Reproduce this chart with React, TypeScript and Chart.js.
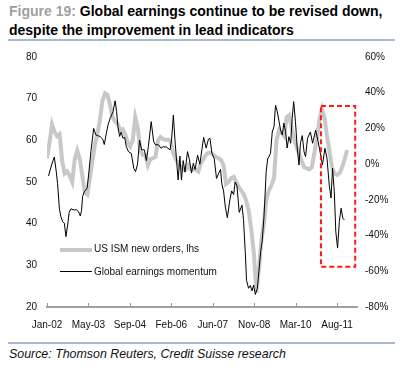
import React, { useEffect, useRef } from "react";
import { Chart, registerables } from "chart.js";

Chart.register(...registerables);

const titlePrefix = "Figure 19:";
const titleLine1 = " Global earnings continue to be revised down,";
const titleLine2 = "despite the improvement in lead indicators";
const sourceText = "Source: Thomson Reuters, Credit Suisse research";
const legendLabels = ["US ISM new orders, lhs", "Global earnings momentum"];

// x axis: months since Jan-02
const xTickLabels = ["Jan-02", "May-03", "Sep-04", "Feb-06", "Jun-07", "Nov-08", "Mar-10", "Aug-11"];
const xTickMonths = [0, 16.43, 32.86, 49.29, 65.71, 82.14, 98.57, 115];
const xRange = [0, 122.9];
const leftRange = [20, 80];
const rightRange = [-80, 60];

// US ISM new orders (lhs), monthly from Jan-02
const ismValues = [
  55.7, 59.5, 63.8, 62, 61, 61.5, 55, 52, 52.5, 51.5, 50, 55.5,
  57.5, 55.5, 51.5, 47.5, 47, 51, 55, 59, 61.5, 65, 69.5, 71.3,
  70.9, 68.5, 65.5, 64.5, 64, 62.5, 62.7, 61.5, 59.5, 58.5, 60, 65.5,
  63, 57.5, 56.5, 56.5, 54, 55.5, 55.7, 56, 60, 60.8, 60.3, 60.1,
  60.2, 59.8, 57, 55.5, 54.5, 53.5, 53, 53, 54, 53, 53, 53,
  52.5, 54.5, 55.5, 56.5, 57, 57, 56.5, 56, 55.7, 55.3, 54, 49.5,
  50, 50.9, 51.2, 50, 48.8, 48, 47, 45.5, 43, 38.5, 33, 23.5,
  29, 36, 40, 46, 48, 49.2, 51, 60, 62.5, 61.8, 61, 65.5,
  66, 63, 60.3, 58.3, 56.8, 55, 53.5, 53.3, 53, 53.5, 57, 60.5,
  65, 67.5, 65.5, 61, 57.3, 53.5, 52, 51.7, 52.1, 53.5, 55.5, 57.7,
];

// Global earnings momentum (rhs, %)
const earningsMonths = [
  0.6, 1.9, 2.9, 3.7, 4.2, 4.9, 5.5, 6.2, 6.9, 7.5, 8.2, 8.8, 9.5, 10.3, 10.8, 11.6,
  12.5, 13.2, 13.7, 14.1, 14.8, 15.9, 16.5, 17.4, 18.5, 19.4, 20.1, 21.1, 22.1, 22.7,
  23.5, 24.2, 25.1, 26.2, 27, 27.6, 28.1, 28.8, 29.4, 30.1, 30.8, 31.4, 32.3, 33.4,
  34.4, 35.1, 35.9, 36.7, 37.5, 38.6, 39.4, 40.2, 41.3, 42.3, 43.1, 44.1, 45.2, 46.1,
  47.4, 48.8, 49.4, 50.1, 50.7, 51.4, 52, 52.7, 53.3, 54, 54.7, 55.7, 56.4, 57.3, 58,
  58.7, 59.7, 60.6, 61.4, 62.1, 63.1, 64, 64.6, 65.4, 66.3, 67.2, 68.1, 68.8, 69.3,
  70, 70.7, 71.5, 72.5, 73.2, 74, 74.6, 75.3, 76.2, 77.3, 77.9, 78.6, 79.1, 79.9,
  80.6, 81.3, 81.9, 82.6, 83.4, 84, 84.7, 85.3, 86, 86.4, 86.9, 87.5, 88.1, 88.6,
  89.3, 90, 90.6, 91.3, 91.9, 92.6, 93.3, 93.9, 94.6, 95.2, 95.9, 96.6, 97.2, 97.8,
  98.5, 99.2, 99.9, 100.5, 101.2, 101.9, 102.5, 103.3, 104.4, 105.3, 106.5, 107.5,
  108.6, 109.2, 110.2, 111, 111.9, 112.6, 113.2, 113.9, 114.5, 115.2, 115.9, 116.6,
  117.3, 117.9,
];
const earningsValues = [
  -6.6, 0, 4, -4.5, -11, -25, -29.4, -32.2, -33.1, -40.6, -34.1, -27, -25, -25.5, -25.7, -25.5,
  -26.6, -29, -26, -18.2, -15.4, -13.5, -6.1, 7, 20, 16.3, 16, 15.4, 14, 11,
  17, 22, 26, 29.4, 35.5, 29.4, 21, 15.5, 18, 14.5, 15, 10, 7, 6,
  -2.3, -4.2, 0, 13.5, 8, 8, 2, 10, 23.8, 12.5, 10.7, 11, 8.9, 9.8,
  9.5, 8, 14, 27.5, 14, 1.4, -8.9, 4.5, -8.9, 2, -4.5, 7, 3, -5, 0.5,
  -3, 5, 0, 8, 15, 9, 14, 14.5, 6, 3, -8, -5, -3, -11,
  -15, -24, -30, -20, -15, -17, -10, -12, -27, -23, -31, -49, -65, -69.5,
  -68, -71, -67.7, -73, -69.5, -60, -49, -43, -30, -19, -4, 3, 4.5, 6,
  18, 21, 33, 29.4, 24.7, 19, 16.3, 23, 18.2, 9, 15.4, 11.7, 25.7, 35,
  23.8, 9, -0.5, 12, 16, 7, 4.2, 14.5, 18, 11.7, 19, 12.6,
  4.2, -0.5, 8.9, 3.3, -11.7, -19, -2.3, -15.4, -37.8, -47, -32, -24.7,
  -30.3, -31.3,
];

// highlighted region (months, rhs %)
const boxMonths = [108.6, 122.2];
const boxPct = [32.5, -57.5];

const FONT = "'Liberation Sans', Arial, sans-serif";

export default function App() {
  const canvasRef = useRef<HTMLCanvasElement | null>(null);

  useEffect(() => {
    if (!canvasRef.current) return;
    const tickMarks = {
      id: "tickMarks",
      afterDraw(chart: any) {
        const { ctx, chartArea, scales } = chart;
        ctx.save();
        ctx.strokeStyle = "#999";
        ctx.lineWidth = 1;
        xTickMonths.forEach((m) => {
          const px = Math.round(scales.x.getPixelForValue(m)) + 0.5;
          ctx.beginPath();
          ctx.moveTo(px, chartArea.bottom);
          ctx.lineTo(px, chartArea.bottom - 4);
          ctx.stroke();
        });
        ctx.restore();
      },
    };
    const boxPlugin = {
      id: "boxPlugin",
      afterDatasetsDraw(chart: any) {
        const { ctx, scales } = chart;
        const x1 = scales.x.getPixelForValue(boxMonths[0]);
        const x2 = scales.x.getPixelForValue(boxMonths[1]);
        const y1 = scales.y2.getPixelForValue(boxPct[0]);
        const y2 = scales.y2.getPixelForValue(boxPct[1]);
        ctx.save();
        ctx.strokeStyle = "#ff1a1a";
        ctx.lineWidth = 2;
        ctx.setLineDash([5, 3]);
        ctx.strokeRect(x1, y1, x2 - x1, y2 - y1);
        ctx.restore();
      },
    };
    const chart = new Chart(canvasRef.current, {
      type: "line",
      data: {
        datasets: [
          {
            label: legendLabels[0],
            data: ismValues.map((v, i) => ({ x: i, y: v })),
            borderColor: "#c8c8c8",
            borderWidth: 4,
            pointRadius: 0,
            yAxisID: "y",
            order: 2,
            tension: 0,
          },
          {
            label: legendLabels[1],
            data: earningsValues.map((v, i) => ({ x: earningsMonths[i], y: v })),
            borderColor: "#000",
            borderWidth: 1,
            pointRadius: 0,
            yAxisID: "y2",
            order: 1,
            tension: 0,
          },
        ],
      },
      options: {
        responsive: false,
        animation: false,
        devicePixelRatio: 1,
        layout: { padding: { top: 17, left: 0, right: 0, bottom: 0 } },
        plugins: { legend: { display: false }, tooltip: { enabled: false } },
        scales: {
          x: {
            type: "linear",
            min: xRange[0],
            max: xRange[1],
            grid: { display: false, drawTicks: false },
            border: { display: true, color: "#a0a0a0", width: 2 },
            afterBuildTicks: (scale: any) => {
              scale.ticks = xTickMonths.map((v) => ({ value: v }));
            },
            afterFit: (scale: any) => {
              scale.height = 33;
            },
            ticks: {
              autoSkip: false,
              maxRotation: 0,
              padding: 12,
              color: "#111",
              font: { family: FONT, size: 10 },
              callback: (_v: any, i: number) => xTickLabels[i],
            },
          },
          y: {
            position: "left",
            min: leftRange[0],
            max: leftRange[1],
            grid: { display: false, drawTicks: false },
            border: { display: false },
            afterFit: (scale: any) => {
              scale.width = 47;
            },
            ticks: {
              stepSize: 10,
              padding: 10,
              color: "#111",
              font: { family: FONT, size: 10 },
            },
          },
          y2: {
            position: "right",
            min: rightRange[0],
            max: rightRange[1],
            grid: { display: false, drawTicks: false },
            border: { display: false },
            afterFit: (scale: any) => {
              scale.width = 49;
            },
            ticks: {
              stepSize: 20,
              padding: 8,
              color: "#111",
              font: { family: FONT, size: 10 },
              callback: (v: any) => v + "%",
            },
          },
        },
      },
      plugins: [tickMarks, boxPlugin],
    } as any);
    return () => chart.destroy();
  }, []);

  const rule = "#a9b9cf";
  return (
    <div style={{ position: "absolute", left: 0, top: 0, width: 406, height: 373, background: "#fff", fontFamily: FONT }}>
      <div style={{ position: "absolute", left: 9, top: 1.5, fontSize: 14, fontWeight: "bold", lineHeight: "19px", whiteSpace: "nowrap", color: "#000" }}>
        <span style={{ color: "#a0a0a0" }}>{titlePrefix}</span>
        {titleLine1}
        <br />
        {titleLine2}
      </div>
      <div style={{ position: "absolute", left: 8, top: 39, width: 387, height: 1.5, background: rule }} />
      <div style={{ position: "absolute", left: 0, top: 40, width: 406, height: 300 }}>
        <canvas ref={canvasRef} width={406} height={300} style={{ width: 406, height: 300, display: "block" }} />
      </div>
      <div style={{ position: "absolute", left: 60, top: 247.5, width: 32, height: 4, background: "#c8c8c8" }} />
      <div style={{ position: "absolute", left: 94, top: 243, fontSize: 10, lineHeight: "12px", color: "#111", whiteSpace: "nowrap" }}>{legendLabels[0]}</div>
      <div style={{ position: "absolute", left: 60, top: 271, width: 32, height: 1, background: "#000" }} />
      <div style={{ position: "absolute", left: 94, top: 266, fontSize: 10, lineHeight: "12px", color: "#111", whiteSpace: "nowrap" }}>{legendLabels[1]}</div>
      <div style={{ position: "absolute", left: 8, top: 342, width: 387, height: 1.5, background: rule }} />
      <div style={{ position: "absolute", left: 9, top: 346.5, fontSize: 12.4, fontStyle: "italic", lineHeight: "14px", color: "#111", whiteSpace: "nowrap" }}>{sourceText}</div>
    </div>
  );
}
